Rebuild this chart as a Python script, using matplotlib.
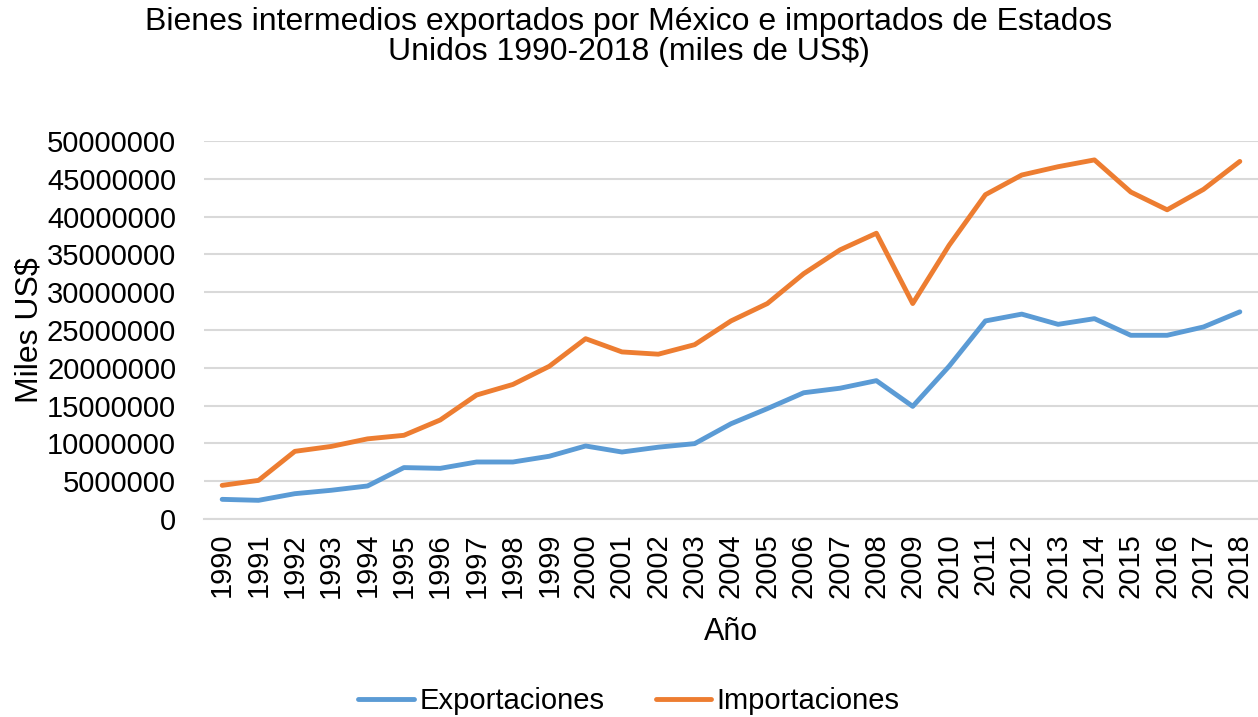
import matplotlib
matplotlib.use("Agg")
import matplotlib.pyplot as plt
from matplotlib.ticker import FixedLocator

years = [str(y) for y in range(1990, 2019)]
exportaciones = [2600000, 2470000, 3350000, 3800000, 4370000, 6800000, 6700000,
                 7540000, 7540000, 8300000, 9660000, 8860000, 9500000, 9970000,
                 12600000, 14600000, 16700000, 17300000, 18300000, 14900000,
                 20200000, 26200000, 27100000, 25750000, 26500000, 24300000,
                 24300000, 25400000, 27400000]
importaciones = [4450000, 5110000, 8950000, 9600000, 10600000, 11070000, 13100000,
                 16400000, 17800000, 20200000, 23850000, 22100000, 21800000,
                 23060000, 26200000, 28500000, 32450000, 35600000, 37800000,
                 28500000, 36200000, 42900000, 45500000, 46600000, 47500000,
                 43250000, 40900000, 43600000, 47300000]
yticks = list(range(0, 50000001, 5000000))

plt.rcParams['font.family'] = ['Liberation Sans', 'DejaVu Sans']

W, H = 1258, 717
fig = plt.figure(figsize=(W / 100, H / 100), dpi=100)
ax = fig.add_axes([204 / W, (H - 519) / H, 1054 / W, 378 / H])

x = list(range(len(years)))
ax.plot(x, exportaciones, color='#5B9BD5', lw=3.5, solid_capstyle='round',
        solid_joinstyle='round', label='Exportaciones', zorder=3)
ax.plot(x, importaciones, color='#ED7D31', lw=3.5, solid_capstyle='round',
        solid_joinstyle='round', label='Importaciones', zorder=3)

ax.set_xlim(-0.5, len(years) - 0.5)
ax.set_ylim(0, 50000000)
ax.yaxis.set_major_locator(FixedLocator(yticks))
ax.set_yticklabels([str(v) for v in yticks], fontsize=21)
ax.set_xticks(x)
ax.set_xticklabels(years, rotation=90, fontsize=21)
ax.tick_params(axis='both', length=0)
ax.tick_params(axis='y', pad=20)
ax.tick_params(axis='x', pad=10)
ax.grid(axis='y', color='#D9D9D9', lw=1.5, zorder=0)
for s in ['top', 'right', 'left']:
    ax.spines[s].set_visible(False)
ax.spines['bottom'].set_color('#D9D9D9')
ax.spines['bottom'].set_linewidth(1.5)

ax.set_ylabel('Miles US$', fontsize=23, labelpad=2)
ax.set_xlabel('Año', fontsize=22, labelpad=14)

fig.text(0.5, 1 - 37 / H, 'Bienes intermedios exportados por México e importados de Estados\nUnidos 1990-2018 (miles de US$)',
         ha='center', va='center', fontsize=23, linespacing=1.0)

fig.legend(loc='center', bbox_to_anchor=(0.5, 1 - 701 / H), ncol=2, frameon=False,
           fontsize=21, handlelength=1.9, handletextpad=0.2, columnspacing=1.75)

fig.savefig('out.png', dpi=100)
